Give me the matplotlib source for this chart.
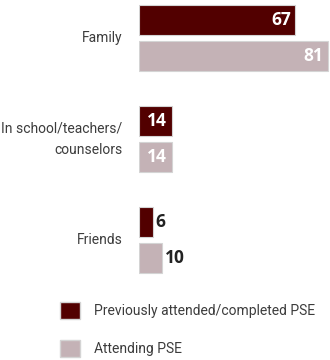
import matplotlib
matplotlib.use("Agg")
import matplotlib.pyplot as plt
from matplotlib.patches import Patch
import numpy as np

# Sources of information about post-secondary education
CATEGORIES = ["Family", "In school/teachers/\ncounselors", "Friends"]
PREVIOUS = [67, 14, 6]
ATTENDING = [81, 14, 10]
SERIES_NAMES = ["Previously attended/completed PSE", "Attending PSE"]

DARK = "#520000"
LIGHT = "#c4b2b6"
EDGE = "#d4d4d4"
LABEL_FONT = ["Roboto", "DejaVu Sans"]
VALUE_FONT = ["Open Sans", "DejaVu Sans"]

W, H = 330, 360
fig = plt.figure(figsize=(W / 100, H / 100), dpi=100)
ax = fig.add_axes([139 / W, 80 / H, 191 / W, 280 / H])

y = np.arange(len(CATEGORIES))
bar_h = 0.30
off = 0.175
ax.barh(y - off, PREVIOUS, height=bar_h, color=DARK, edgecolor=EDGE, linewidth=0.8)
ax.barh(y + off, ATTENDING, height=bar_h, color=LIGHT, edgecolor=EDGE, linewidth=0.8)

ax.set_xlim(0, 81 * 191 / 189)
ax.set_ylim((280 - 38) / 101, -38 / 101)
ax.axis("off")

# value labels: inside in white when the bar is wide enough, else outside in black
for vals, ys in ((PREVIOUS, y - off), (ATTENDING, y + off)):
    for v, yy in zip(vals, ys):
        if v >= 12:
            ax.text(v - 2.0, yy, str(v), ha="right", va="center", color="white",
                    fontsize=12.5, fontweight="bold", family=VALUE_FONT)
        else:
            ax.text(v + 1.1, yy, str(v), ha="left", va="center", color="#222222",
                    fontsize=12.5, fontweight="bold", family=VALUE_FONT)

for c, yy in zip(CATEGORIES, y):
    ax.text(-7, yy, c, ha="right", va="center", color="#3c3c3c",
            fontsize=10, family=LABEL_FONT, linespacing=1.7)

handles = [Patch(facecolor=DARK, edgecolor=EDGE), Patch(facecolor=LIGHT, edgecolor=EDGE)]
fig.legend(handles, SERIES_NAMES, loc="upper left",
           bbox_to_anchor=(60 / W, 1 - 302 / H), frameon=False,
           borderpad=0, borderaxespad=0,
           prop={"family": LABEL_FONT, "size": 10},
           handlelength=1.45, handleheight=1.55, handletextpad=1.0,
           labelspacing=1.45, labelcolor="#3c3c3c")

fig.savefig("out.png", dpi=100)
